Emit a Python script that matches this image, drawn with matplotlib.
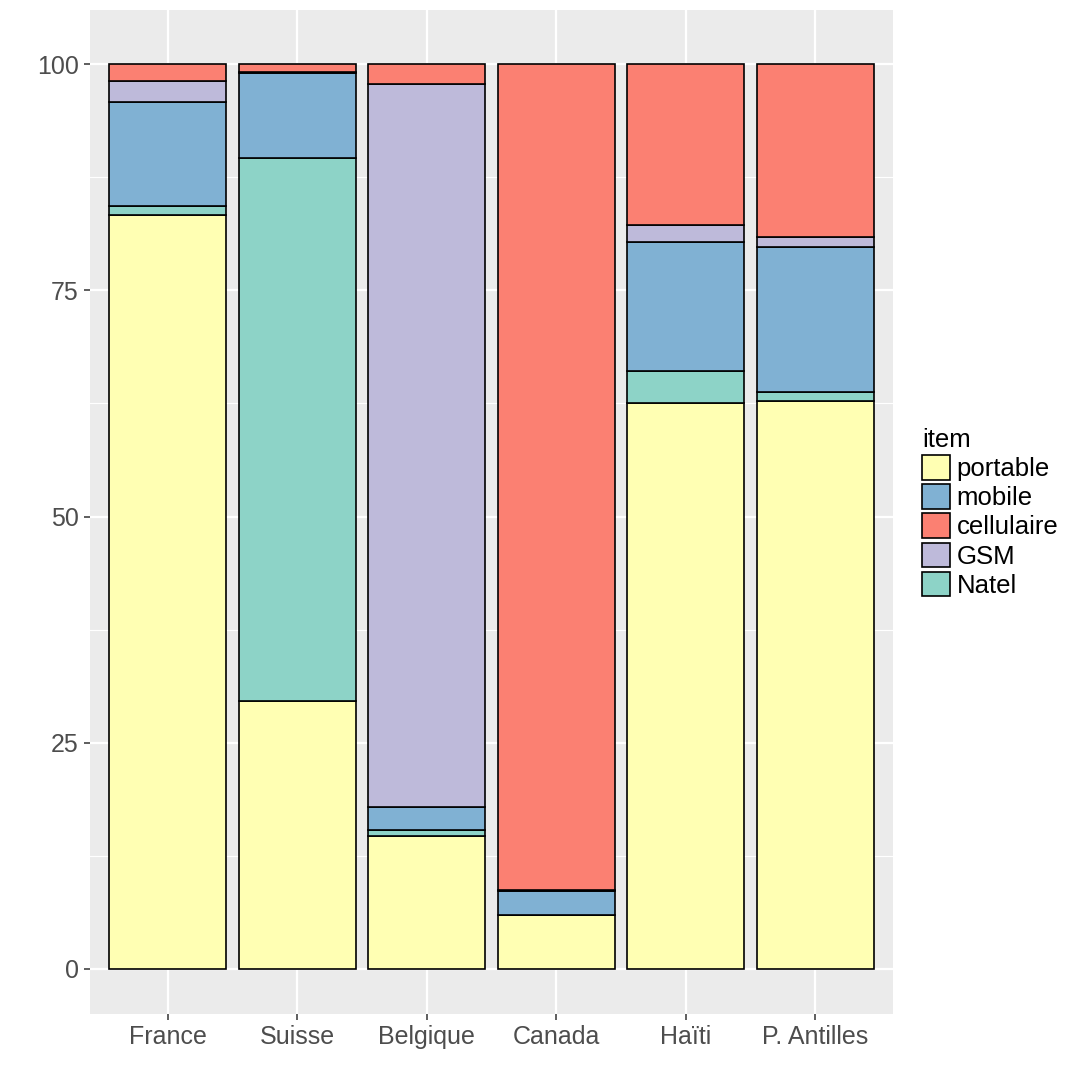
import matplotlib
matplotlib.use('Agg')
import matplotlib.pyplot as plt
from matplotlib.patches import Patch
import numpy as np

plt.rcParams['font.family'] = ['Liberation Sans', 'DejaVu Sans']

# Data (percent of answers per region)
countries = ['France', 'Suisse', 'Belgique', 'Canada', 'Haïti', 'P. Antilles']
portable = [83.3, 29.6, 14.7, 5.9, 62.5, 62.8]
natel = [1.0, 60.0, 0.6, 0.1, 3.6, 1.0]
mobile = [11.5, 9.4, 2.6, 2.6, 14.3, 16.0]
gsm = [2.3, 0.2, 79.9, 0.1, 1.8, 1.1]
cellulaire = [1.9, 0.8, 2.2, 91.3, 17.8, 19.1]

# stacked from bottom to top
stack = [('portable', portable, '#FFFFB3'),
         ('Natel', natel, '#8DD3C7'),
         ('mobile', mobile, '#80B1D3'),
         ('GSM', gsm, '#BEBADA'),
         ('cellulaire', cellulaire, '#FB8072')]
colors = {name: c for name, _, c in stack}
legend_order = ['portable', 'mobile', 'cellulaire', 'GSM', 'Natel']

fig = plt.figure(figsize=(10.75, 10.8), dpi=100)
ax = fig.add_axes([90/1075, 66/1080, 803/1075, 1004/1080])
ax.set_facecolor('#EBEBEB')

x = np.arange(1, len(countries) + 1)
bottom = np.zeros(len(countries))
for name, vals, col in stack:
    ax.bar(x, vals, bottom=bottom, width=0.9, color=col,
           edgecolor='black', linewidth=1.2, zorder=3)
    bottom += np.array(vals)

ax.set_xlim(0.4, 6.6)
ax.set_ylim(-5, 106)
ax.set_xticks(x)
ax.set_xticklabels(countries)
ax.set_yticks([0, 25, 50, 75, 100])
ax.set_yticks([12.5, 37.5, 62.5, 87.5], minor=True)
ax.grid(which='major', color='white', linewidth=1.6, zorder=0)
ax.grid(which='minor', axis='y', color='white', linewidth=0.8, zorder=0)
ax.set_axisbelow(True)
for s in ax.spines.values():
    s.set_visible(False)
ax.tick_params(axis='both', which='major', length=4, width=1.1, color='#333333',
               labelsize=18, labelcolor='#4D4D4D', pad=4)
ax.tick_params(axis='both', which='minor', length=0)

handles = [Patch(facecolor=colors[n], edgecolor='black', linewidth=1.2) for n in legend_order]
leg = fig.legend(handles, legend_order, title='item', loc='upper left',
                 bbox_to_anchor=(904/1075, 1 - 410/1080), frameon=False,
                 fontsize=18.5, title_fontsize=18.5, handlelength=1.1, handleheight=1.1,
                 handletextpad=0.25, labelspacing=0.12, borderpad=0.2)
leg._legend_box.align = 'left'

fig.savefig('out.png', dpi=100)
